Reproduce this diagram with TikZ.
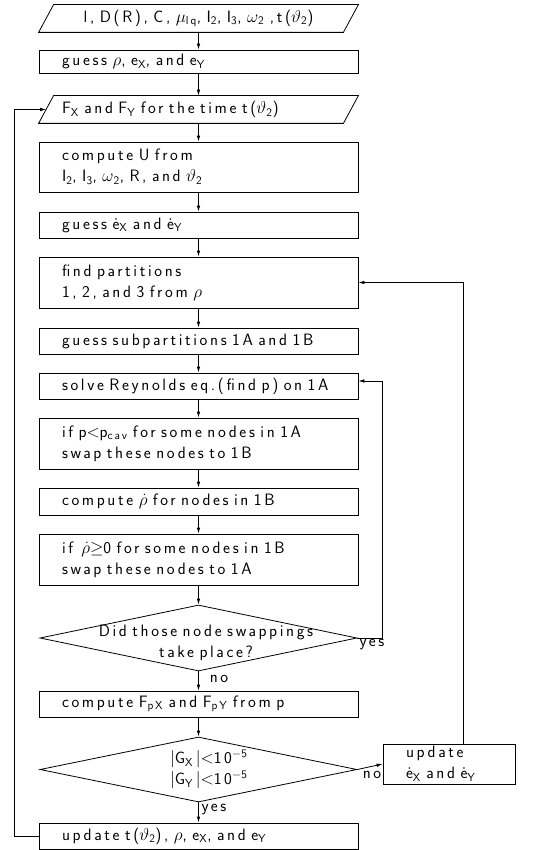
\documentclass[tikz,border=0pt]{standalone}
\usepackage{fontspec}
\setsansfont{Latin Modern Sans}[LetterSpace=16]
\renewcommand{\familydefault}{\sfdefault}
\usetikzlibrary{arrows.meta,shapes.geometric}
\newcommand{\lind}{\hspace*{18.5pt}}
\newcommand{\chartfont}{\fontsize{16.5}{21}\selectfont}
\tikzset{
  ln/.style={line width=0.8pt},
  arr/.style={ln,-{Latex[length=6pt,width=3.6pt]}},
  box/.style={draw,ln,rectangle,minimum width=319,text width=310,align=left,inner xsep=4.5,inner ysep=0},
  para/.style={box,draw=none},
  dia/.style={draw,ln,diamond,inner sep=0,minimum width=317},
  lbl/.style={inner sep=0}
}
\begin{document}
\begin{tikzpicture}[x=1pt,y=-1pt,font=\chartfont]
\useasboundingbox (0,0) rectangle (543,850);
% input parallelogram
\node[para,minimum height=27,align=center] (p1) at (198.5,18.5)
  {l, D(R), C, $\mu$\textsubscript{lq}, I\textsubscript{2}, I\textsubscript{3}, $\omega$\textsubscript{2} ,t($\vartheta$\textsubscript{2})};
\draw[ln] (p1.south west) -- ([xshift=15]p1.north west) -- (p1.north east) -- ([xshift=-15]p1.south east) -- cycle;
\node[box,minimum height=23] (b2) at (198.5,61.5) {\lind guess $\rho$, e\textsubscript{X}, and e\textsubscript{Y}};
\node[para,minimum height=27] (p3) at (198.5,109.5)
  {\lind F\textsubscript{X} and F\textsubscript{Y} for the time t($\vartheta$\textsubscript{2})};
\draw[ln] (p3.south west) -- ([xshift=15]p3.north west) -- (p3.north east) -- ([xshift=-15]p3.south east) -- cycle;
\node[box,minimum height=50] (b4) at (198.5,167)
  {\lind compute U from\\ \lind I\textsubscript{2}, I\textsubscript{3}, $\omega$\textsubscript{2}, R, and $\vartheta$\textsubscript{2}};
\node[box,minimum height=26] (b5) at (198.5,225) {\lind guess \.e\textsubscript{X} and \.e\textsubscript{Y}};
\node[box,minimum height=51] (b6) at (198.5,282.5) {\lind find partitions\\ \lind 1, 2, and 3 from $\rho$};
\node[box,minimum height=26] (b7) at (198.5,341) {\lind guess subpartitions 1A and 1B};
\node[box,minimum height=26] (b8) at (198.5,386) {\lind solve Reynolds eq.(find p) on 1A};
\node[box,minimum height=51] (b9) at (198.5,443.5)
  {\lind if p$<$p\textsubscript{cav} for some nodes in 1A\\ \lind swap these nodes to 1B};
\node[box,minimum height=27] (b10) at (198.5,501.5) {\lind compute $\dot\rho$ for nodes in 1B};
\node[box,minimum height=51] (b11) at (198.5,559.5)
  {\lind if \,$\dot\rho{\geq}$0 for some nodes in 1B\\ \lind swap these nodes to 1A};
\node[dia,minimum height=66] (d1) at (198.5,638) {};
\node[lbl,text width=260,align=center] (d1t) at (206,643) {Did those node swappings\\ take place?};
\node[box,minimum height=26] (b12) at (198.5,704)
  {\lind compute F\textsubscript{pX} and F\textsubscript{pY} from p};
\node[dia,minimum height=65] (d2) at (198.5,769.5) {};
\node[lbl,text width=90,align=left] (d2t) at (215,769.5)
  {$|$G\textsubscript{X}\,$|$$<$10\textsuperscript{$-$5}\\ $|$G\textsubscript{Y}\,$|$$<$10\textsuperscript{$-$5}};
\node[draw,ln,minimum width=132,minimum height=40,text width=110,align=left,inner xsep=11,inner ysep=0] (upd) at (449,764)
  {\hspace*{12pt}update\\ \hspace*{12pt}\.e\textsubscript{X} and \.e\textsubscript{Y}};
\node[box,minimum height=26] (b13) at (198.5,836)
  {\lind update t($\vartheta$\textsubscript{2}), $\rho$, e\textsubscript{X}, and e\textsubscript{Y}};
% labels
\node[lbl] (yes1) at (372,645) {yes};
\node[lbl] (no1) at (219,679) {no};
\node[lbl] (no2) at (372,775) {no};
\node[lbl] (yes2) at (214,810) {yes};
% main flow
\draw[arr] (p1.south) -- (b2.north);
\draw[arr] (b2.south) -- (p3.north);
\draw[arr] (p3.south) -- (b4.north);
\draw[arr] (b4.south) -- (b5.north);
\draw[arr] (b5.south) -- (b6.north);
\draw[arr] (b6.south) -- (b7.north);
\draw[arr] (b7.south) -- (b8.north);
\draw[arr] (b8.south) -- (b9.north);
\draw[arr] (b9.south) -- (b10.north);
\draw[arr] (b10.south) -- (b11.north);
\draw[arr] (b11.south) -- (d1.north);
\draw[arr] (d1.south) -- (b12.north);
\draw[arr] (b12.south) -- (d2.north);
\draw[arr] (d2.south) -- (b13.north);
% loops
\draw[arr] (d1.east) -- ++(25,0) |- ([yshift=5pt]b8.east);
\draw[arr] (d2.east) -- (upd.west);
\draw[arr] ([xshift=14pt]upd.north) |- (b6.east);
\draw[arr] (b13.west) -- ++(-24,0) |- ([xshift=7.5pt]p3.west);
\end{tikzpicture}
\end{document}
